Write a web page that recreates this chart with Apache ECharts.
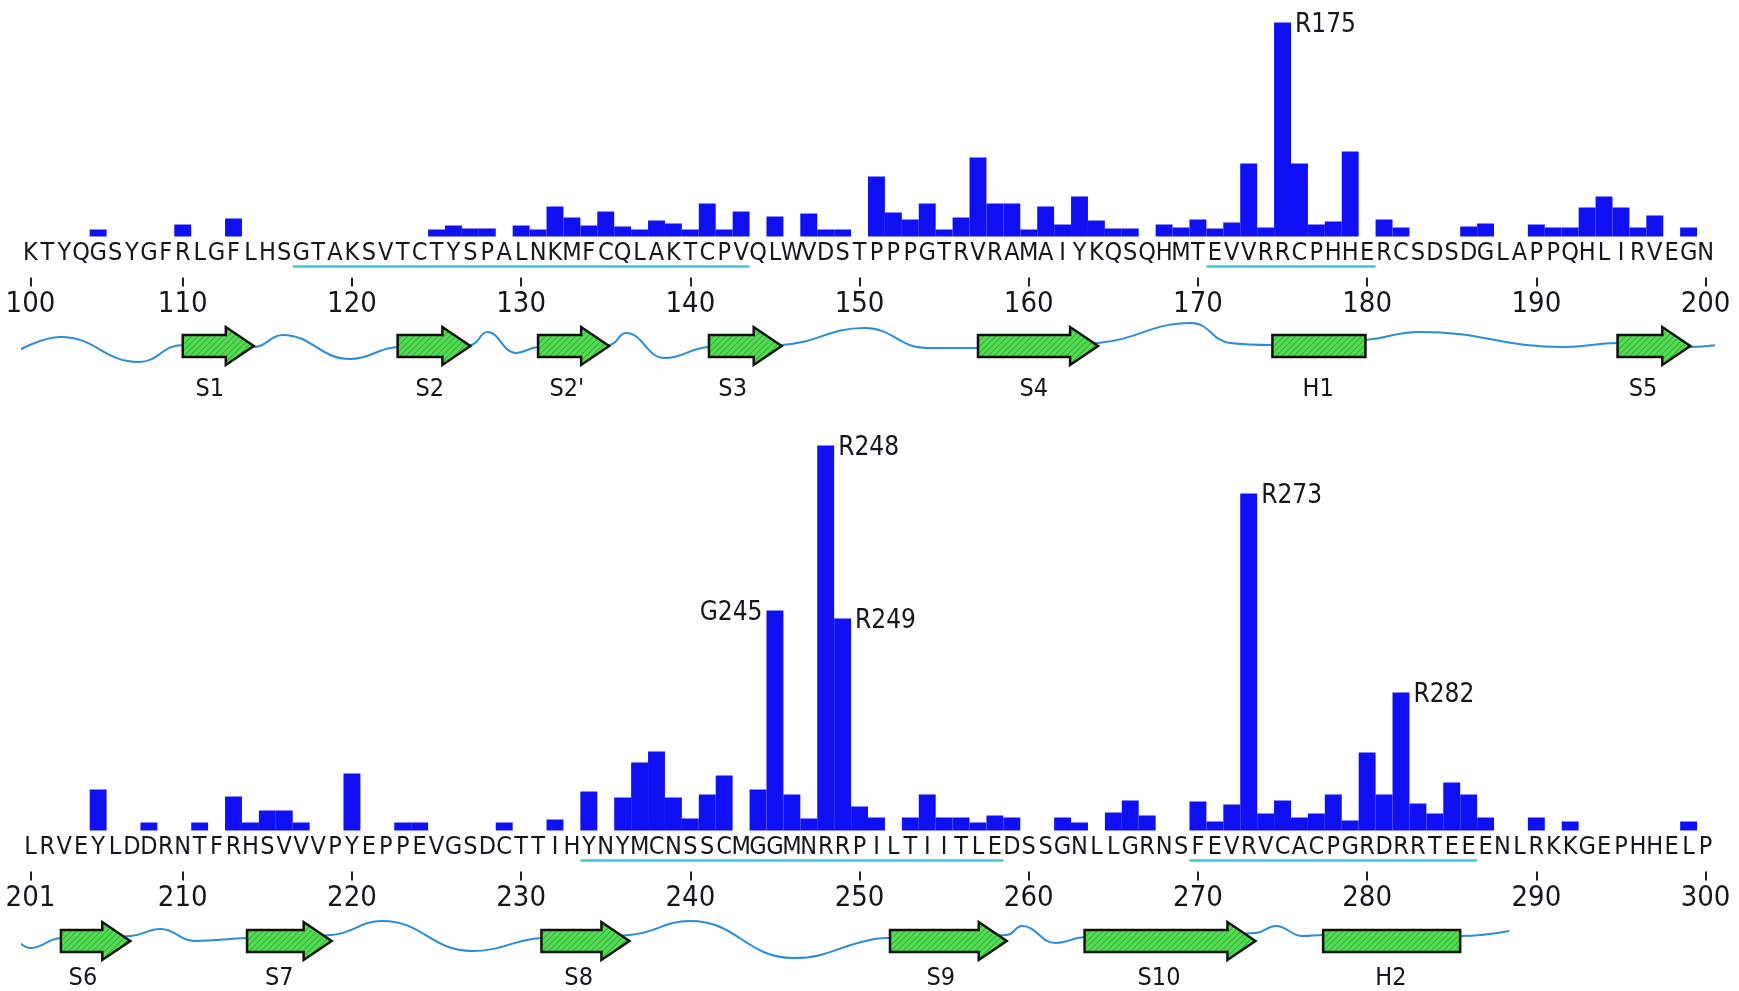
<!DOCTYPE html>
<html>
<head>
<meta charset="utf-8">
<script src="https://cdn.jsdelivr.net/npm/echarts@6/dist/echarts.min.js"></script>
<style>
html,body{margin:0;padding:0;background:#fff;}
#chart{width:1739px;height:991px;}
</style>
</head>
<body>
<div id="chart"></div>
<script>
// ---------------- DATA ----------------
const topLetters = 'KTYQGSYGFRLGFLHSGTAKSVTCTYSPALNKMFCQLAKTCPVQLWVDSTPPPGTRVRAMAIYKQSQHMTEVVRRCPHHERCSDSDGLAPPQHLIRVEGN'.split('');
const bottomLetters = 'LRVEYLDDRNTFRHSVVVPYEPPEVGSDCTTIHYNYMCNSSCMGGMNRRPILTIITLEDSSGNLLGRNSFEVRVCACPGRDRRTEEENLRKKGEPHHELP'.split('');
const topFirst = 101;
const bottomFirst = 201;

const topValues = [
  0,0,0,0,7,0,0,0,0,12,
  0,0,18,0,0,0,0,0,0,0,
  0,0,0,0,7,11,8,8,0,11,
  7,30,19,11,25,10,7,16,13,7,
  33,7,25,0,20,0,23,7,7,0,
  60,24,17,33,7,19,79,33,33,7,
  30,12,40,16,8,8,0,12,9,17,
  8,14,73,9,214,73,12,15,85,0,
  17,9,0,0,0,10,13,0,0,12,
  9,9,29,40,29,9,21,0,9,0
];
const bottomValues = [
  0,0,0,0,41,0,0,8,0,0,
  8,0,34,8,20,20,8,0,0,57,
  0,0,8,8,0,0,0,0,8,0,
  0,11,0,39,0,33,68,79,33,12,
  36,55,0,41,220,36,12,385,212,24,
  13,0,13,36,13,13,8,15,13,0,
  0,13,8,0,18,30,15,0,0,29,
  9,26,337,17,30,13,17,36,10,78,
  36,138,27,17,48,36,13,0,0,13,
  0,9,0,0,0,0,0,0,9,0
];

const topTickResidues = [101,110,120,130,140,150,160,170,180,190,200];
const topTickLabels   = ['100','110','120','130','140','150','160','170','180','190','200'];
const bottomTickResidues = [201,210,220,230,240,250,260,270,280,290,300];
const bottomTickLabels   = ['201','210','220','230','240','250','260','270','280','290','300'];

const topMarked = [[175,'right']];
const bottomMarked = [[245,'left'],[248,'right'],[249,'right'],[273,'right'],[282,'right']];

const topUnderlines = [[117,143],[171,180]];
const bottomUnderlines = [[234,258],[270,286]];

// secondary structure: name, start, end, kind, label position (residue units)
const topStructNames  = ['S1','S2',"S2'",'S3','S4','H1','S5'];
const topStructStart  = [110,122.7,131,141.1,157,174.4,194.8];
const topStructEnd    = [114.2,127,135.2,145.4,164.1,179.9,199.1];
const topStructKind   = ['strand','strand','strand','strand','strand','helix','strand'];
const topStructLabel  = [111.6,124.6,132.7,142.5,160.3,177.1,196.3];

const bottomStructNames = ['S6','S7','S8','S9','S10','H2'];
const bottomStructStart = [202.8,213.8,231.2,251.8,263.3,277.4];
const bottomStructEnd   = [206.9,218.8,236.4,258.7,273.4,285.5];
const bottomStructKind  = ['strand','strand','strand','strand','strand','helix'];
const bottomStructLabel = [204.1,215.7,233.4,254.8,267.7,281.4];

// coil trace (residue, relative height)
const topCoil = [
  [100.15,-0.6],[102.8,0.9],[107.4,-1.6],[110,0.1],[114.2,-0.1],[115.9,1.1],[119.9,-1.3],
  [122.7,-0.1],[127,0.1],[128,1.4],[129.7,-0.7],[131,-0.1],[135.2,0.1],[136.2,1.3],
  [138.5,-1.2],[141.1,-0.1],[145.4,0.1],[150.3,1.8],[154,-0.2],[157,-0.2],[164.1,0.3],
  [169.6,2.3],[171.9,0.3],[174.4,0.1],[179.9,0.6],[183.1,1.4],[191.7,-0.1],[194.8,0.3],
  [199.1,-0.1],[201.7,0.4]
];
const bottomCoil = [
  [199.85,0.8],[201,-0.7],[202.8,0.3],[206.9,0.5],[208.7,1.2],[210.7,0.0],[213.8,0.3],
  [218.8,0.6],[221.8,2.0],[227.1,-1.0],[231.2,0.3],[236.4,0.6],[240,2.0],[246.1,-1.7],
  [250.6,0.1],[251.8,0.3],[258.7,0.6],[259.6,1.5],[261.6,-0.2],[263.3,0.4],[273.4,0.8],
  [274.6,1.5],[276.2,0.5],[277.4,0.6],[285.5,0.5],[288.4,1.0]
];

// ---------------- STYLE ----------------
const FONT = '"Liberation Sans Narrow","Arial Narrow","DejaVu Sans Condensed","Liberation Sans",sans-serif';
const BAR = '#1010f4';
const TXT = '#15151f';
const LEFT = 22, WIDTH = 1692;

const pc = document.createElement('canvas');
pc.width = 6; pc.height = 6;
(function(){
  const c = pc.getContext('2d');
  c.fillStyle = '#55dc55'; c.fillRect(0,0,6,6);
  c.strokeStyle = '#38b038'; c.lineWidth = 1.1;
  c.beginPath(); c.moveTo(0,6); c.lineTo(6,0); c.moveTo(-1,1); c.lineTo(1,-1); c.moveTo(5,7); c.lineTo(7,5); c.stroke();
})();
const hatch = {image: pc, repeat: 'repeat'};

function residues(first){ const a=[]; for(let i=0;i<100;i++) a.push(String(first+i)); return a; }

function barData(values, letters, first, marked){
  return values.map((v,i)=>{
    const res = first+i;
    const m = marked.find(d=>d[0]===res);
    if(!m) return v;
    const right = m[1]==='right';
    return {value:v, label:{show:true, formatter: letters[i]+res,
      position: right?['100%',0]:[0,0], align: right?'left':'right', verticalAlign:'middle',
      offset: right?[4,3]:[-4,3], fontSize:26, fontFamily:FONT, color:TXT}};
  });
}

function letterAxis(grid, letters, first){
  return {type:'category', gridIndex:grid, data:residues(first), position:'bottom',
    axisLine:{show:false}, axisTick:{show:false},
    axisLabel:{interval:0, margin:4, fontSize:25, fontFamily:FONT, color:TXT,
      formatter:(v,i)=>letters[i]}};
}
function numberAxis(grid, first, ticks, labels){
  const show = (idx)=>ticks.indexOf(first+idx)>=0;
  return {type:'category', gridIndex:grid, data:residues(first), position:'bottom', offset:41,
    axisLine:{show:false},
    axisTick:{show:true, alignWithLabel:true, length:9, interval:(i)=>show(i), lineStyle:{color:'#222', width:2}},
    axisLabel:{interval:(i)=>show(i), margin:12, fontSize:29, fontFamily:FONT, color:TXT,
      formatter:(v)=>labels[ticks.indexOf(+v)]}};
}

function underlineSeries(xi, yi, segs, first){
  return {type:'custom', xAxisIndex:xi, yAxisIndex:yi, clip:false, z:2, silent:true,
    data: segs.map(s=>[s[0]-first, s[1]-first]),
    renderItem:(p, api)=>{
      const a = api.coord([api.value(0),0]), b = api.coord([api.value(1),0]);
      const bw = api.size([1,0])[0];
      return {type:'line', shape:{x1:a[0]-bw/2, y1:a[1]+30, x2:b[0]+bw/2, y2:a[1]+30},
        style:{stroke:'#3cc6d9', lineWidth:2.5}};
    }};
}

function structSeries(xi, yi, names, starts, ends, kinds, labs, labelDy){
  return {type:'custom', xAxisIndex:xi, yAxisIndex:yi, clip:false, z:4, silent:true,
    data: starts.map((s,i)=>[s, ends[i], labs[i]]),
    renderItem:(p, api)=>{
      const i = p.dataIndex;
      const a = api.coord([api.value(0),0]), b = api.coord([api.value(1),0]);
      const l = api.coord([api.value(2),0]);
      const y = a[1], x0=a[0], x1=b[0];
      let shape;
      if(kinds[i]==='helix'){
        shape = {type:'rect', shape:{x:x0, y:y-11, width:x1-x0, height:22},
          style:{fill:hatch, stroke:'#111', lineWidth:2.5}};
      } else {
        const hl = Math.min(28, (x1-x0)*0.45);
        shape = {type:'polygon', shape:{points:[[x0,y-11],[x1-hl,y-11],[x1-hl,y-19],[x1,y],[x1-hl,y+19],[x1-hl,y+11],[x0,y+11]]},
          style:{fill:hatch, stroke:'#111', lineWidth:2.5, lineJoin:'miter'}};
      }
      const txt = {type:'text', style:{text:names[i], x:l[0], y:y+labelDy, align:'center', verticalAlign:'middle',
        fontSize:25, fontFamily:FONT, fill:TXT}};
      return {type:'group', children:[shape, txt]};
    }};
}

function coilSeries(xi, yi, pts){
  return {type:'line', xAxisIndex:xi, yAxisIndex:yi, data:pts, smooth:0.45, symbol:'none', clip:false, silent:true,
    z:1, lineStyle:{color:'#2a8dd6', width:2}};
}

const option = {
  animation:false,
  backgroundColor:'#ffffff',
  grid:[
    {left:LEFT, width:WIDTH, top:6.5, height:230},
    {left:LEFT, width:WIDTH, top:316, height:60},
    {left:LEFT, width:WIDTH, top:430.5, height:400},
    {left:LEFT, width:WIDTH, top:911, height:60}
  ],
  xAxis:[
    letterAxis(0, topLetters, topFirst),
    numberAxis(0, topFirst, topTickResidues, topTickLabels),
    {type:'value', gridIndex:1, min:100.5, max:200.5, show:false},
    letterAxis(2, bottomLetters, bottomFirst),
    numberAxis(2, bottomFirst, bottomTickResidues, bottomTickLabels),
    {type:'value', gridIndex:3, min:200.5, max:300.5, show:false}
  ],
  yAxis:[
    {type:'value', gridIndex:0, min:0, max:230, show:false},
    {type:'value', gridIndex:1, min:-3, max:3, show:false},
    {type:'value', gridIndex:2, min:0, max:400, show:false},
    {type:'value', gridIndex:3, min:-3, max:3, show:false}
  ],
  series:[
    {type:'bar', xAxisIndex:0, yAxisIndex:0, barCategoryGap:'0%', itemStyle:{color:BAR},
      data:barData(topValues, topLetters, topFirst, topMarked)},
    {type:'bar', xAxisIndex:3, yAxisIndex:2, barCategoryGap:'0%', itemStyle:{color:BAR},
      data:barData(bottomValues, bottomLetters, bottomFirst, bottomMarked)},
    underlineSeries(0, 0, topUnderlines, topFirst),
    underlineSeries(3, 2, bottomUnderlines, bottomFirst),
    coilSeries(2, 1, topCoil),
    coilSeries(5, 3, bottomCoil),
    structSeries(2, 1, topStructNames, topStructStart, topStructEnd, topStructKind, topStructLabel, 43),
    structSeries(5, 3, bottomStructNames, bottomStructStart, bottomStructEnd, bottomStructKind, bottomStructLabel, 37)
  ]
};
const chart = echarts.init(document.getElementById('chart'), null, {renderer:'canvas'});
chart.setOption(option);
</script>
</body>
</html>
